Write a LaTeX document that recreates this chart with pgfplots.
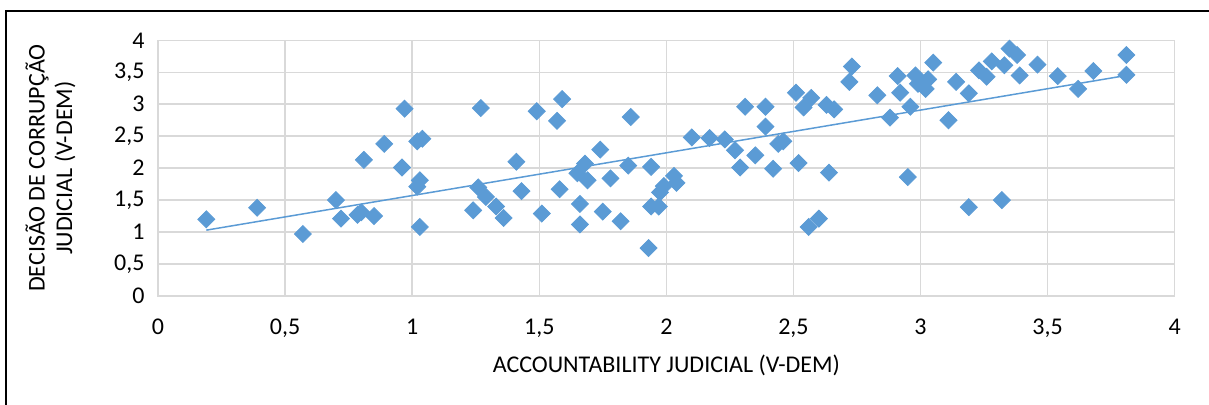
\documentclass[border=0pt]{standalone}
\usepackage{pgfplots}
\pgfplotsset{compat=1.18}
\usepackage{fontspec}
\setmainfont{Carlito}
\definecolor{mkblue}{HTML}{5B9BD5}
\definecolor{gridgray}{HTML}{D9D9D9}
\begin{document}
\begin{tikzpicture}
\useasboundingbox (-79pt,-54.5pt) rectangle (525.5pt,148pt);
\begin{axis}[
  scale only axis, width=508.35pt, height=127.85pt,
  xmin=0, xmax=4, ymin=0, ymax=4,
  xtick={0,0.5,1,1.5,2,2.5,3,3.5,4},
  ytick={0,0.5,1,1.5,2,2.5,3,3.5,4},
  xticklabels={0,{0,5},1,{1,5},2,{2,5},3,{3,5},4},
  yticklabels={0,{0,5},1,{1,5},2,{2,5},3,{3,5},4},
  grid=major, major grid style={gridgray, line width=0.75pt},
  axis line style={gridgray, line width=0.75pt},
  major tick length=0pt,
  tick label style={font=\fontsize{12}{14}\selectfont, text=black},
  xticklabel style={yshift=-7.9pt},
  yticklabel style={xshift=-3.2pt},
  xlabel={ACCOUNTABILITY JUDICIAL (V-DEM)},
  ylabel={DECISÃO DE CORRUPÇÃO\\JUDICIAL (V-DEM)},
  xlabel style={at={(axis description cs:0.5,-0.27)}, anchor=center, font=\fontsize{12}{14}\selectfont},
  ylabel style={at={(axis description cs:-0.1057,0.5)}, anchor=center, align=center, font=\fontsize{12}{13.8}\selectfont},
]
\addplot[only marks, mark=square*, mark size=3pt, mark options={rotate=45, fill=mkblue, draw=mkblue}] coordinates {
(0.19,1.20) (0.39,1.38) (0.57,0.97) (0.70,1.50) (0.72,1.21) (0.785,1.27) (0.80,1.31) (0.85,1.25)
(0.81,2.13) (0.89,2.38) (0.97,2.93) (0.96,2.01) (1.02,2.42) (1.04,2.46) (1.03,1.81) (1.02,1.71)
(1.03,1.08) (1.27,2.94) (1.26,1.70) (1.24,1.34) (1.29,1.55) (1.33,1.40) (1.36,1.22) (1.41,2.10)
(1.43,1.64) (1.49,2.89) (1.51,1.29) (1.59,3.08) (1.57,2.74) (1.58,1.67) (1.65,1.92) (1.68,2.07)
(1.69,1.81) (1.66,1.44) (1.66,1.12) (1.74,2.29) (1.75,1.32) (1.78,1.84) (1.82,1.17) (1.85,2.04)
(1.86,2.80) (1.94,2.02) (1.94,1.40) (1.97,1.40) (1.93,0.75) (1.975,1.62) (1.99,1.72) (2.03,1.88)
(2.04,1.77) (2.10,2.48) (2.17,2.47) (2.23,2.45) (2.27,2.28) (2.29,2.01) (2.31,2.96) (2.35,2.20)
(2.39,2.96) (2.39,2.65) (2.42,1.99) (2.44,2.38) (2.46,2.42) (2.51,3.18) (2.52,2.08) (2.54,2.95)
(2.57,3.10) (2.63,2.99) (2.66,2.92) (2.64,1.93) (2.56,1.08) (2.60,1.21) (2.73,3.59) (2.72,3.35)
(2.83,3.14) (2.88,2.79) (2.91,3.44) (2.92,3.18) (2.96,2.96) (2.95,1.86) (2.98,3.45) (2.99,3.32)
(3.02,3.24) (3.03,3.39) (3.05,3.65) (3.11,2.75) (3.14,3.35) (3.19,3.17) (3.19,1.39) (3.23,3.53)
(3.26,3.43) (3.28,3.67) (3.32,1.50) (3.33,3.61) (3.35,3.87) (3.38,3.77) (3.39,3.45) (3.46,3.62)
(3.54,3.44) (3.62,3.24) (3.68,3.52) (3.81,3.77) (3.81,3.46)
};
\addplot[mkblue, line width=0.75pt, no marks] coordinates {(0.19,1.03) (3.81,3.45)};
\end{axis}
\draw[black, line width=0.75pt] (-76pt,-54.5pt) -- (-76pt,142.5pt) -- (525.5pt,142.5pt);
\end{tikzpicture}
\end{document}
